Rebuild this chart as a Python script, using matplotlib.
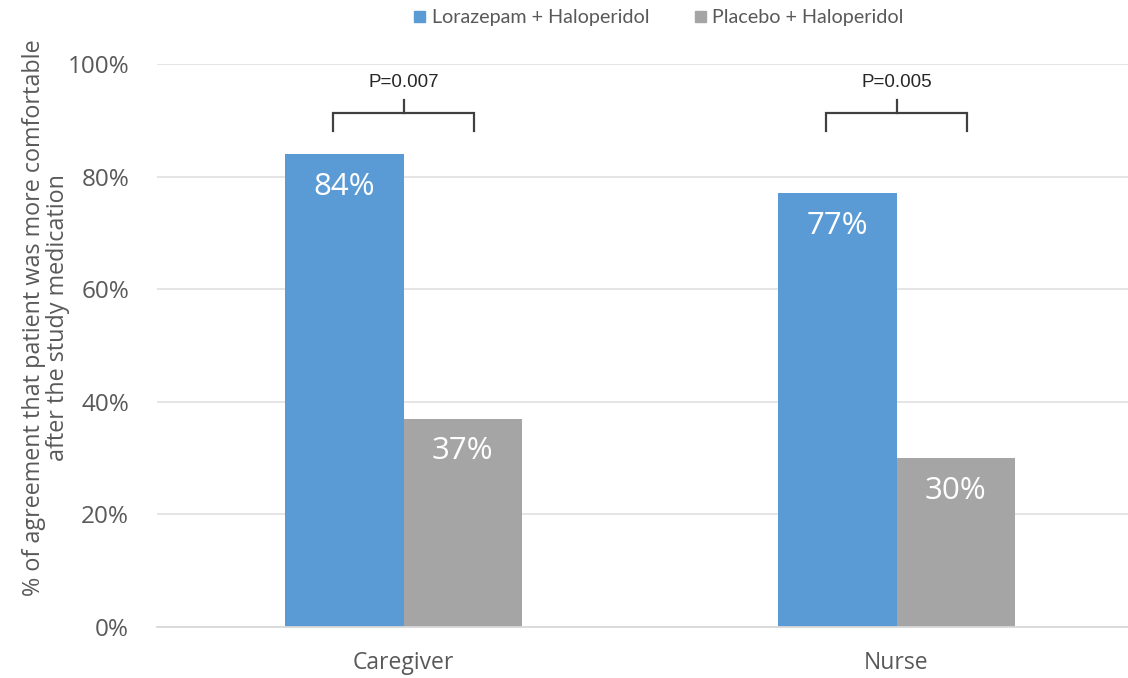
import matplotlib.pyplot as plt
from matplotlib.patches import Patch

categories = ['Caregiver', 'Nurse']
lorazepam = [84, 77]
placebo = [37, 30]
p_values = ['P=0.007', 'P=0.005']
series_names = ['Lorazepam + Haloperidol', 'Placebo + Haloperidol']

blue = '#5B9BD5'
grey = '#A5A5A5'
text_grey = '#595959'

W, H = 1128, 678
fig = plt.figure(figsize=(W / 100, H / 100), dpi=100)
plt.rcParams['font.family'] = ['Open Sans', 'DejaVu Sans']

# plot area runs off the right edge, like the source layout
left_px, bottom_px, top_px = 157, 627, 64
ax = fig.add_axes([left_px / W, (H - bottom_px) / H,
                   (W - left_px) / W, (bottom_px - top_px) / H])
cat_px = 493
ax.set_xlim(-0.5, -0.5 + (W - left_px) / cat_px)
ax.set_ylim(0, 100)

bw = 0.24
x = range(len(categories))
b1 = ax.bar([i - bw / 2 for i in x], lorazepam, bw, color=blue, zorder=2)
b2 = ax.bar([i + bw / 2 for i in x], placebo, bw, color=grey, zorder=2)

for bars, vals in ((b1, lorazepam), (b2, placebo)):
    for b, v in zip(bars, vals):
        ax.text(b.get_x() + b.get_width() / 2, v - 5.8, f'{v}%',
                ha='center', va='center', color='white', fontsize=22.5)

# significance brackets
for i, p in zip(x, p_values):
    x0, x1 = i - 0.143, i + 0.142
    ax.plot([x0, x0, x1, x1], [88.1, 91.3, 91.3, 88.1], color='#404040',
            lw=1.6, solid_joinstyle='miter', clip_on=False, zorder=3)
    ax.plot([i, i], [91.3, 93.6], color='#404040', lw=1.6, clip_on=False)
    ax.text(i, 96.8, p, ha='center', va='center', fontsize=13.5,
            family=['Liberation Sans'], color='#262626')

ax.set_yticks(range(0, 101, 20))
ax.set_yticklabels([f'{t}%' for t in range(0, 101, 20)], fontsize=17.5,
                   color=text_grey)
ax.set_xticks(list(x))
ax.set_xticklabels(categories, fontsize=16.5, color=text_grey)
ax.tick_params(length=0)
ax.tick_params(axis='y', pad=20)
ax.tick_params(axis='x', pad=17)
ax.grid(axis='y', color='#E3E3E3', lw=1.3, zorder=0)
for s in ['top', 'right', 'left']:
    ax.spines[s].set_visible(False)
ax.spines['bottom'].set_color('#D9D9D9')
ax.spines['bottom'].set_linewidth(1.3)

fig.text(46 / W, 1 - 318 / H,
         '% of agreement that patient was more comfortable\nafter the study medication',
         rotation=90, ha='center', va='center', fontsize=16.8,
         color=text_grey, linespacing=1.0)

handles = [Patch(color=blue), Patch(color=grey)]
fig.legend(handles, series_names, loc='center', bbox_to_anchor=(659 / W, 1 - 18 / H),
           ncol=2, frameon=False, handlelength=0.55,
           handleheight=0.55, handletextpad=0.35, columnspacing=2.3,
           labelcolor=text_grey, prop={'family': ['Lato'], 'size': 14.2})

fig.savefig('out.png', dpi=100)
